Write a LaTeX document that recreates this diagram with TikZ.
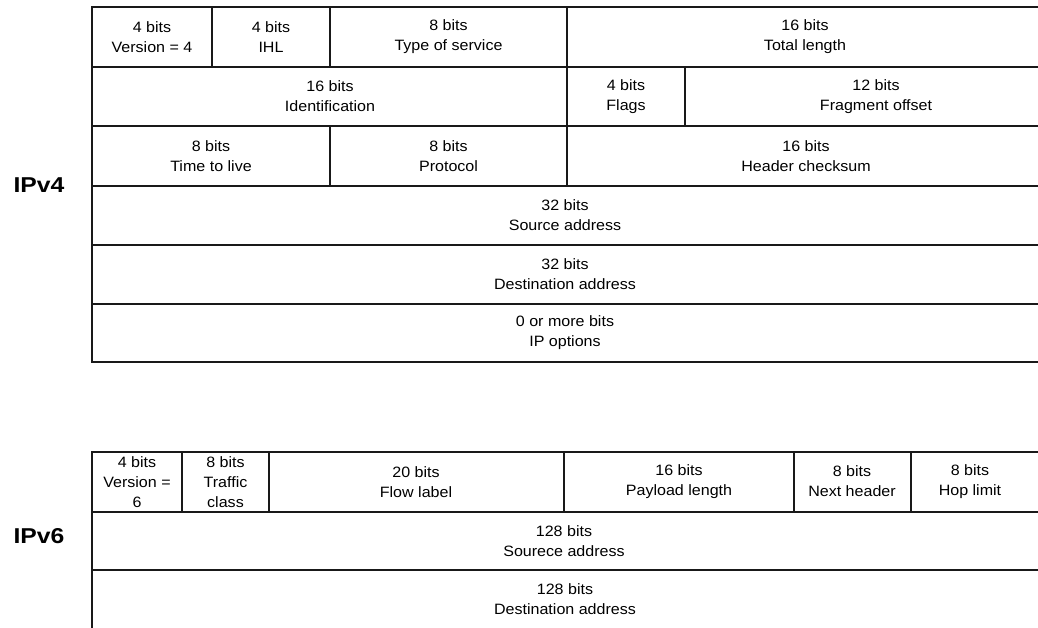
\documentclass[tikz,border=0pt]{standalone}
\usepackage{fontspec}
\setmainfont{Liberation Sans}
\newfontfamily\fieldfont[FakeStretch=1.07]{Liberation Sans}
\newfontfamily\protofont[FakeStretch=1.15]{Liberation Sans}
\begin{document}
\begin{tikzpicture}[x=1pt,y=-1pt,
  field/.style={align=center,inner sep=0pt,text=black,
    font=\fieldfont\fontsize{15}{20}\selectfont},
  proto/.style={inner sep=0pt,text=black,
    font=\protofont\bfseries\fontsize{21.5}{24}\selectfont},
  rule/.style={line width=1.2pt,draw=black!90,line cap=rect}]
\fill[white] (0,0) rectangle (1038,627);
\useasboundingbox (0,0) rectangle (1038,627);

% ---------------- IPv4 header ----------------
\draw[rule] (1038,7) -- (92,7) -- (92,362) -- (1038,362);
\foreach \y in {67,126,186,245,304}
  \draw[rule] (92,\y) -- (1038,\y);
% row 1 separators
\foreach \x in {212,330,567}
  \draw[rule] (\x,7) -- (\x,67);
% row 2 separators
\foreach \x in {567,685}
  \draw[rule] (\x,67) -- (\x,126);
% row 3 separators
\foreach \x in {330,567}
  \draw[rule] (\x,126) -- (\x,186);

\node[field] (v4ver)   at (152,37)    {4 bits\\Version = 4};
\node[field] (v4ihl)   at (271,37)    {4 bits\\IHL};
\node[field] (v4tos)   at (448.5,37)  {8 bits\\Type of service};
\node[field] (v4len)   at (805,37)    {16 bits\\Total length};
\node[field] (v4id)    at (330,96.5)  {16 bits\\Identification};
\node[field] (v4flags) at (626,96.5)  {4 bits\\Flags};
\node[field] (v4frag)  at (876,96.5)  {12 bits\\Fragment offset};
\node[field] (v4ttl)   at (211,156)   {8 bits\\Time to live};
\node[field] (v4proto) at (448.5,156) {8 bits\\Protocol};
\node[field] (v4csum)  at (806,156)   {16 bits\\Header checksum};
\node[field] (v4src)   at (565,215.5) {32 bits\\Source address};
\node[field] (v4dst)   at (565,274.5) {32 bits\\Destination address};
\node[field] (v4opt)   at (565,333)   {0 or more bits\\IP options};

\node[proto] (ipv4) at (39,185) {IPv4};

% ---------------- IPv6 header ----------------
\draw[rule] (1038,452) -- (92,452) -- (92,627);
\foreach \y in {512,570}
  \draw[rule] (92,\y) -- (1038,\y);
\foreach \x in {182,269,564,794,911}
  \draw[rule] (\x,452) -- (\x,512);

\node[field] (v6ver)   at (137,482)   {4 bits\\Version =\\6};
\node[field] (v6tc)    at (225.5,482) {8 bits\\Traffic\\class};
\node[field] (v6flow)  at (416,482)   {20 bits\\Flow label};
\node[field] (v6len)   at (679,482)   {16 bits\\Payload length};
\node[field] (v6next)  at (852,481)   {8 bits\\Next header};
\node[field] (v6hop)   at (970,482)   {8 bits\\Hop limit};
\node[field] (v6src)   at (564,541)   {128 bits\\Sourece address};
\node[field] (v6dst)   at (565,599)   {128 bits\\Destination address};

\node[proto] (ipv6) at (39,536) {IPv6};
\end{tikzpicture}
\end{document}
